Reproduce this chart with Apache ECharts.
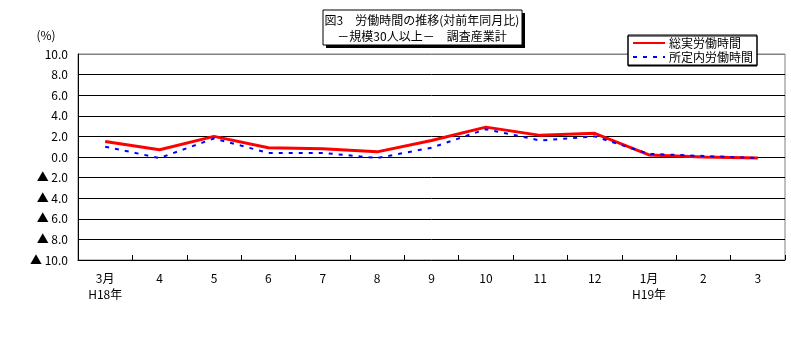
<!DOCTYPE html>
<html><head><meta charset="utf-8">
<script src="https://cdn.jsdelivr.net/npm/echarts@6/dist/echarts.min.js"></script>
<style>html,body{margin:0;padding:0;background:#fff}#c{width:791px;height:360px}</style>
</head><body><div id="c"></div>
<script>
const categories = ['3月\nH18年','4','5','6','7','8','9','10','11','12','1月\nH19年','2','3'];
const totalHours = [1.5, 0.7, 2.0, 0.9, 0.8, 0.5, 1.6, 2.9, 2.1, 2.3, 0.2, 0.0, -0.1];
const scheduledHours = [1.0, -0.1, 1.8, 0.4, 0.4, -0.1, 0.9, 2.7, 1.6, 2.0, 0.3, 0.1, -0.1];
const seriesNames = ['総実労働時間', '所定内労働時間'];
const titleLines = ['図3　労働時間の推移(対前年同月比)', '－規模30人以上－　調査産業計'];
const unitLabel = '(%)';

const FONT = '"Noto Sans CJK JP", sans-serif';
const chart = echarts.init(document.getElementById('c'), null, {renderer: 'canvas'});
const splitColors = [];
for (let i = 0; i <= 10; i++) splitColors.push(i === 0 || i === 10 ? '#808080' : '#000000');

chart.setOption({
  animation: false,
  backgroundColor: '#fff',
  textStyle: {fontFamily: FONT},
  grid: {left: 78, right: 6, top: 54, bottom: 100, show: true, borderColor: '#808080', borderWidth: 1},
  legend: {
    orient: 'vertical', left: 628, top: 35,
    data: seriesNames,
    backgroundColor: '#fff', borderColor: '#000', borderWidth: 1,
    padding: [2, 4, 2, 4], itemGap: 2, itemWidth: 32, itemHeight: 12,
    itemStyle: {opacity: 0},
    textStyle: {fontFamily: FONT, fontSize: 12, lineHeight: 12, color: '#000', padding: [0, 0, 0, -1]},
    shadowColor: '#000', shadowOffsetX: 0, shadowOffsetY: 1, shadowBlur: 0
  },
  xAxis: [{
    type: 'category', data: categories, boundaryGap: true,
    axisLine: {show: false}, axisTick: {show: false},
    axisLabel: {color: '#000', fontSize: 12, margin: 10, lineHeight: 16, fontFamily: FONT, interval: 0}
  }, {
    type: 'category', data: categories, boundaryGap: true, position: 'bottom',
    axisLine: {show: true, onZero: true, lineStyle: {color: '#000', width: 1}},
    axisTick: {show: true, inside: true, length: 5, lineStyle: {color: '#000'}},
    axisLabel: {show: false}
  }],
  yAxis: {
    type: 'value', min: -10, max: 10, interval: 2,
    axisLine: {show: true, lineStyle: {color: '#000', width: 1}},
    axisTick: {show: false},
    axisLabel: {
      color: '#000', fontSize: 12, margin: 10, fontFamily: FONT,
      formatter: v => (v < 0 ? '▲ ' + Math.abs(v).toFixed(1) : v.toFixed(1))
    },
    splitLine: {show: true, lineStyle: {color: splitColors, width: 1}}
  },
  series: [{
    name: seriesNames[0], type: 'line', data: totalHours, symbol: 'none', z: 3,
    lineStyle: {color: '#ff0000', width: 3}, itemStyle: {color: '#ff0000'}
  }, {
    name: seriesNames[1], type: 'line', data: scheduledHours, symbol: 'none', z: 4,
    lineStyle: {color: '#0000ff', width: 2, type: [4, 6]}, itemStyle: {color: '#0000ff'}
  }],
  graphic: [
    {type: 'rect', shape: {x: 326, y: 13, width: 199, height: 35}, style: {fill: '#000'}},
    {type: 'rect', shape: {x: 323, y: 10, width: 199, height: 35}, style: {fill: '#fff', stroke: '#000', lineWidth: 1}},
    {type: 'text', x: 422, y: 20, style: {text: titleLines[0], font: '12px ' + FONT, fill: '#000', align: 'center', verticalAlign: 'middle'}},
    {type: 'text', x: 422, y: 36, style: {text: titleLines[1], font: '12px ' + FONT, fill: '#000', align: 'center', verticalAlign: 'middle'}},
    {type: 'text', x: 46, y: 35, style: {text: unitLabel, font: '12px ' + FONT, fill: '#000', align: 'center', verticalAlign: 'middle'}}
  ]
});
</script></body></html>
